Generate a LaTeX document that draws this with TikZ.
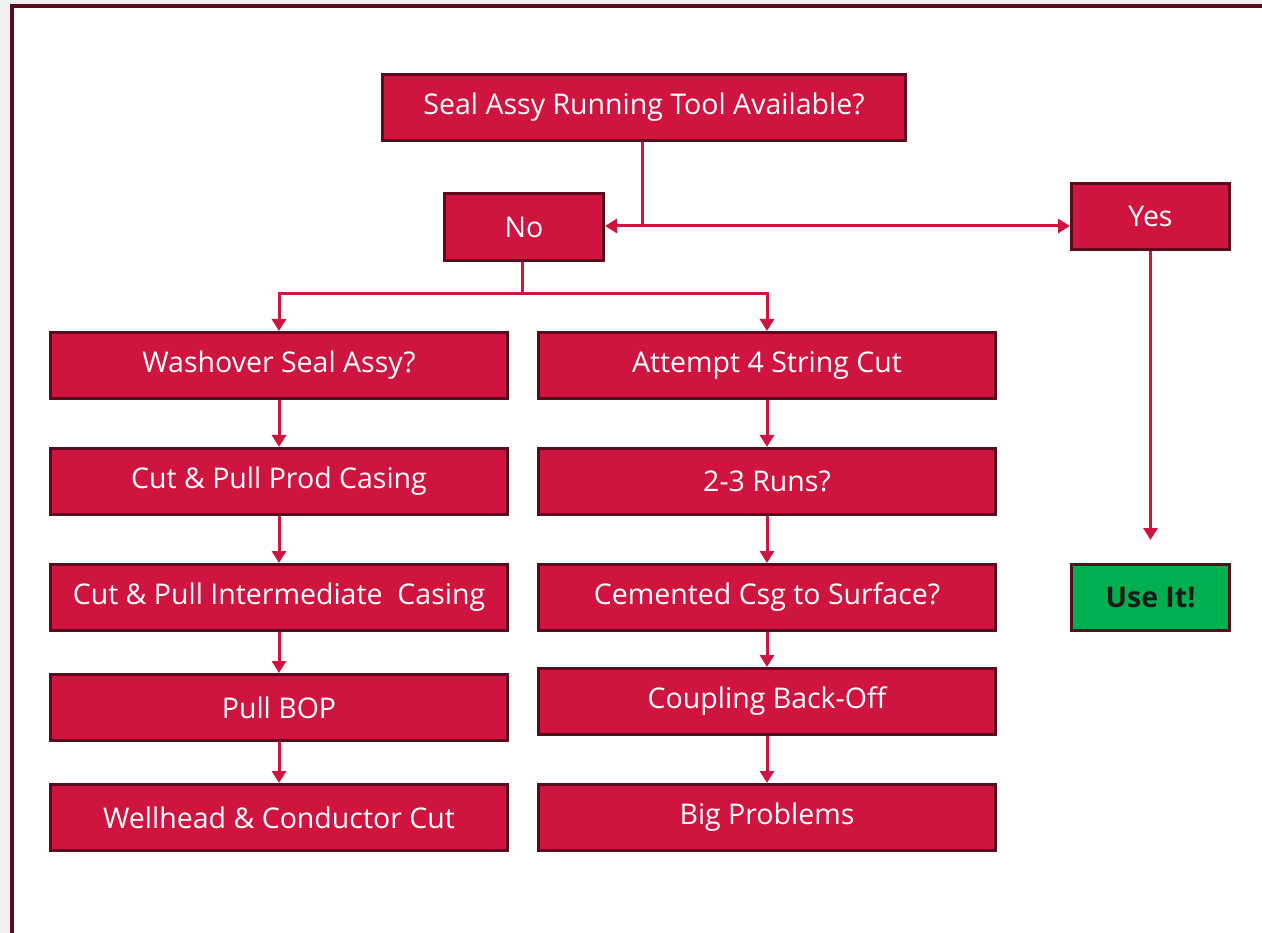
\documentclass[tikz,border=0pt]{standalone}
\usepackage{fontspec}
\setmainfont{Open Sans}
\usetikzlibrary{arrows.meta}
\definecolor{crim}{HTML}{D01440}
\definecolor{maroon}{HTML}{5C0A1E}
\definecolor{bggray}{HTML}{F0F0F0}
\definecolor{okgreen}{HTML}{00B050}
\definecolor{darktext}{HTML}{1A1A1A}
\tikzset{
  boxstyle/.style={draw=maroon, line width=3pt, fill=crim, text=white, font=\fontsize{28.5}{33}\selectfont, inner sep=0pt, anchor=north west},
  greenbox/.style={boxstyle, fill=okgreen, text=darktext, font=\fontsize{28.5}{33}\selectfont\bfseries},
  conn/.style={draw=crim, line width=3pt, -{Triangle[length=12pt,width=14pt]}},
  plainconn/.style={draw=crim, line width=3pt}
}
\begin{document}
\begin{tikzpicture}[x=1pt,y=-1pt]
\useasboundingbox (0,0) rectangle (1262,933);
\fill[bggray] (0,0) rectangle (1262,933);
\fill[white] (12,6) rectangle (1262,933);
\draw[maroon, line width=4pt] (12,940) -- (12,6) -- (1270,6);

\node[boxstyle, minimum width=523pt, minimum height=66pt] (top) at (381,73) {Seal Assy Running Tool Available?};
\node[boxstyle, minimum width=159pt, minimum height=67pt] (no) at (443,192) {No};
\node[boxstyle, minimum width=158pt, minimum height=66pt] (yes) at (1070,182) {Yes};
\node[greenbox, minimum width=158pt, minimum height=66pt] (use) at (1070,563) {Use It!};

\node[boxstyle, minimum width=457pt, minimum height=66pt] (l1) at (49,331) {Washover Seal Assy?};
\node[boxstyle, minimum width=457pt, minimum height=66pt] (l2) at (49,447) {Cut \& Pull Prod Casing};
\node[boxstyle, minimum width=457pt, minimum height=66pt] (l3) at (49,563) {Cut \& Pull Intermediate\ \ Casing};
\node[boxstyle, minimum width=457pt, minimum height=66pt] (l4) at (49,673) {Pull BOP};
\node[boxstyle, minimum width=457pt, minimum height=66pt] (l5) at (49,783) {Wellhead \& Conductor Cut};

\node[boxstyle, minimum width=457pt, minimum height=66pt] (r1) at (537,331) {Attempt 4 String Cut};
\node[boxstyle, minimum width=457pt, minimum height=66pt] (r2) at (537,447) {2-3 Runs?};
\node[boxstyle, minimum width=457pt, minimum height=66pt] (r3) at (537,563) {Cemented Csg to Surface?};
\node[boxstyle, minimum width=457pt, minimum height=66pt] (r4) at (537,667) {Coupling Back-Off};
\node[boxstyle, minimum width=457pt, minimum height=66pt] (r5) at (537,783) {Big Problems};

\coordinate (j1) at (642,226);
\coordinate (j2) at (522,294);
\coordinate (useTip) at (1149,540);

\draw[plainconn] (top.south -| j1) -- (j1);
\draw[conn] (j1) -- (no.east |- j1);
\draw[conn] (j1) -- (yes.west |- j1);
\draw[conn] (yes.south) -- (yes.south |- useTip);

\draw[plainconn] (no.south -| j2) -- (j2);
\draw[conn] (j2) -| (l1.north);
\draw[conn] (j2) -| (r1.north);

\draw[conn] (l1) -- (l2);
\draw[conn] (l2) -- (l3);
\draw[conn] (l3) -- (l4);
\draw[conn] (l4) -- (l5);
\draw[conn] (r1) -- (r2);
\draw[conn] (r2) -- (r3);
\draw[conn] (r3) -- (r4);
\draw[conn] (r4) -- (r5);
\end{tikzpicture}
\end{document}
